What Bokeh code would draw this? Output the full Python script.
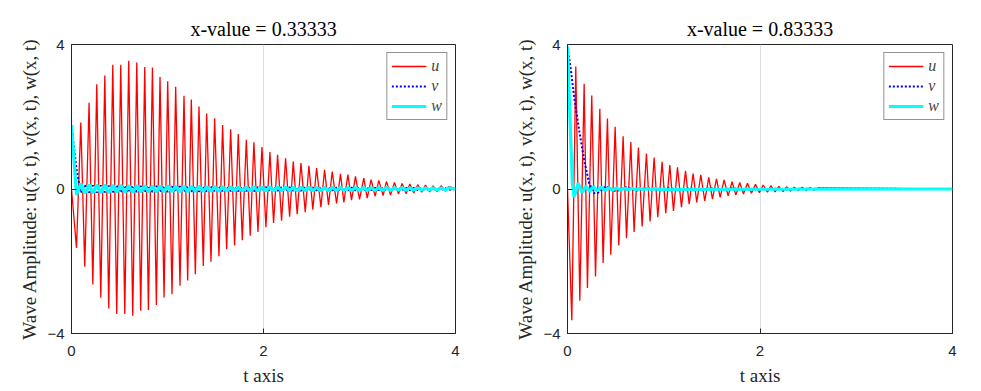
from bokeh.plotting import figure
from bokeh.layouts import row
from bokeh.models import Range1d, FixedTicker, Legend, LegendItem
from bokeh.embed import file_html
from bokeh.resources import INLINE

# ---------------- Left panel: x-value = 0.33333 ----------------
titleL = "x-value = 0.33333"
uL_peak_t = [0.097, 0.183, 0.263, 0.347, 0.430, 0.513, 0.596, 0.680, 0.763, 0.843, 0.922, 1.002,
             1.085, 1.172, 1.248, 1.328, 1.408, 1.491, 1.574, 1.658, 1.737, 1.821, 1.900, 1.984,
             2.067, 2.147, 2.230, 2.310, 2.390, 2.473, 2.553, 2.636, 2.716, 2.802, 2.879, 2.958,
             3.045, 3.121, 3.201, 3.281, 3.364, 3.444, 3.524, 3.607, 3.687, 3.767, 3.850, 3.930]
uL_peak_v = [1.84, 2.39, 2.90, 3.14, 3.44, 3.44, 3.55, 3.50, 3.38, 3.36, 3.10, 2.98,
             2.83, 2.58, 2.48, 2.28, 2.09, 1.96, 1.77, 1.65, 1.52, 1.36, 1.29, 1.16,
             1.02, 0.95, 0.85, 0.76, 0.72, 0.64, 0.58, 0.53, 0.48, 0.42, 0.40, 0.35,
             0.30, 0.26, 0.24, 0.21, 0.18, 0.15, 0.14, 0.12, 0.11, 0.09, 0.09, 0.07]
uL_trough_t = [0.052, 0.138, 0.222, 0.305, 0.388, 0.471, 0.555, 0.638, 0.721, 0.801, 0.884, 0.964,
               1.047, 1.130, 1.210, 1.290, 1.373, 1.453, 1.536, 1.616, 1.699, 1.779, 1.862, 1.942,
               2.025, 2.105, 2.188, 2.272, 2.351, 2.435, 2.514, 2.598, 2.677, 2.761, 2.837, 2.917,
               3.000, 3.080, 3.163, 3.246, 3.323, 3.406, 3.486, 3.565, 3.649, 3.732, 3.808, 3.895]
uL_trough_v = [-1.63, -2.15, -2.64, -3.01, -3.31, -3.46, -3.46, -3.51, -3.37, -3.35, -3.21, -3.00,
               -2.91, -2.68, -2.53, -2.36, -2.13, -2.01, -1.86, -1.67, -1.56, -1.42, -1.29, -1.19,
               -1.06, -0.94, -0.88, -0.77, -0.70, -0.64, -0.57, -0.50, -0.44, -0.40, -0.37, -0.31,
               -0.29, -0.25, -0.20, -0.18, -0.17, -0.14, -0.13, -0.11, -0.09, -0.08, -0.07, -0.06]
uL_start = 0.0
vwL_start = 1.76
wL_at_peak = [0.15, 0.13, 0.12, 0.12, 0.11, 0.11, 0.10, 0.10, 0.10, 0.09, 0.09, 0.09,
              0.08, 0.08, 0.08, 0.08, 0.07, 0.07, 0.07, 0.07, 0.07, 0.06, 0.06, 0.06,
              0.06, 0.06, 0.06, 0.05, 0.05, 0.05, 0.05, 0.05, 0.05, 0.05, 0.04, 0.04,
              0.04, 0.04, 0.04, 0.04, 0.04, 0.04, 0.03, 0.03, 0.03, 0.03, 0.03, 0.03]
wL_at_trough = [-0.17, -0.13, -0.12, -0.11, -0.11, -0.10, -0.10, -0.10, -0.09, -0.09, -0.09, -0.08,
                -0.08, -0.08, -0.08, -0.07, -0.07, -0.07, -0.07, -0.07, -0.06, -0.06, -0.06, -0.06,
                -0.06, -0.06, -0.05, -0.05, -0.05, -0.05, -0.05, -0.05, -0.05, -0.04, -0.04, -0.04,
                -0.04, -0.04, -0.04, -0.04, -0.04, -0.03, -0.03, -0.03, -0.03, -0.03, -0.03, -0.03]
vL_at_peak = [-0.10, -0.10, -0.10, -0.09, -0.09, -0.09, -0.09, -0.08, -0.08, -0.08, -0.08, -0.08,
              -0.07, -0.07, -0.07, -0.07, -0.07, -0.06, -0.06, -0.06, -0.06, -0.06, -0.06, -0.05,
              -0.05, -0.05, -0.05, -0.05, -0.05, -0.05, -0.04, -0.04, -0.04, -0.04, -0.04, -0.04,
              -0.04, -0.03, -0.03, -0.03, -0.03, -0.03, -0.03, -0.03, -0.03, -0.02, -0.02, -0.02]
vL_at_trough = [0.55, 0.10, 0.10, 0.10, 0.09, 0.09, 0.09, 0.09, 0.08, 0.08, 0.08, 0.08,
                0.07, 0.07, 0.07, 0.07, 0.07, 0.06, 0.06, 0.06, 0.06, 0.06, 0.06, 0.05,
                0.05, 0.05, 0.05, 0.05, 0.05, 0.05, 0.04, 0.04, 0.04, 0.04, 0.04, 0.04,
                0.04, 0.03, 0.03, 0.03, 0.03, 0.03, 0.03, 0.03, 0.03, 0.02, 0.02, 0.02]

# ---------------- Right panel: x-value = 0.83333 ----------------
titleR = "x-value = 0.83333"
uR_peak_t = [0.086, 0.173, 0.252, 0.336, 0.415, 0.495, 0.578, 0.658, 0.737, 0.820, 0.900, 0.983,
             1.063, 1.143, 1.226, 1.305, 1.385, 1.468, 1.548, 1.627, 1.710, 1.790, 1.870, 1.953,
             2.033, 2.112, 2.195, 2.275, 2.355, 2.438, 2.517, 2.597]
uR_peak_v = [3.39, 2.91, 2.59, 2.22, 1.95, 1.72, 1.46, 1.30, 1.15, 0.98, 0.87, 0.75,
             0.66, 0.60, 0.50, 0.43, 0.39, 0.32, 0.28, 0.25, 0.20, 0.18, 0.16, 0.13,
             0.11, 0.09, 0.07, 0.06, 0.05, 0.05, 0.04, 0.03]
uR_trough_t = [0.045, 0.128, 0.207, 0.291, 0.370, 0.450, 0.533, 0.613, 0.692, 0.775, 0.858, 0.938,
               1.021, 1.101, 1.184, 1.264, 1.343, 1.426, 1.506, 1.586, 1.669, 1.749, 1.828, 1.911,
               1.994, 2.078, 2.157, 2.240, 2.320, 2.400, 2.483, 2.562]
uR_trough_v = [-3.63, -3.09, -2.74, -2.42, -2.05, -1.82, -1.56, -1.36, -1.19, -1.04, -0.90, -0.78,
               -0.67, -0.61, -0.50, -0.42, -0.37, -0.33, -0.28, -0.23, -0.19, -0.17, -0.14, -0.12,
               -0.10, -0.09, -0.08, -0.07, -0.06, -0.05, -0.05, -0.04]
uR_start = 0.0
wR_t = [0.0, 0.025, 0.05, 0.069, 0.11, 0.15, 0.19, 0.23, 0.27, 0.31, 0.35, 0.39, 0.43, 0.47,
        0.51, 0.55, 0.59, 0.63, 0.67, 0.71, 0.75, 0.79, 0.83, 0.87, 0.91, 0.95, 4.0]
wR_v = [3.95, 2.0, 0.2, -0.22, 0.16, -0.10, 0.08, -0.07, 0.06, -0.05, 0.05, -0.04, 0.04, -0.03,
        0.03, -0.03, 0.02, -0.02, 0.02, -0.02, 0.01, -0.01, 0.01, -0.01, 0.01, -0.01, 0.0]
vR_t = [0.0, 0.034, 0.069, 0.121, 0.173, 0.225, 0.277, 0.318, 0.398, 0.502, 0.606, 0.72, 0.83,
        0.94, 1.05, 1.16, 1.27, 1.38, 1.49, 1.6, 1.71, 1.82, 1.93, 2.04, 2.15, 2.26, 2.37, 4.0]
vR_v = [3.92, 3.32, 2.54, 1.63, 0.80, 0.16, -0.12, -0.10, 0.08, -0.07, 0.05, -0.04, 0.04,
        -0.03, 0.03, -0.03, 0.02, -0.02, 0.02, -0.02, 0.02, -0.02, 0.01, -0.01, 0.01, -0.01, 0.01, 0.0]

t_end = 4.0
x_ticks = [0, 2, 4]
y_ticks = [-4, 0, 4]
ylabel = "Wave Amplitude: u(x, t), v(x, t), w(x, t)"
xlabel = "t axis"

DARK = "#262626"
SERIF = "Liberation Serif"


def merge(start_t, start_v, t1, v1, t2, v2, end_t, end_v):
    pts = sorted(list(zip(t1, v1)) + list(zip(t2, v2)))
    ts = [start_t] + [p[0] for p in pts] + [end_t]
    vs = [start_v] + [p[1] for p in pts] + [end_v]
    return ts, vs


def make_fig(title, border_left, border_right, width):
    p = figure(width=width, height=390, output_backend="svg", toolbar_location=None,
               x_range=Range1d(0, 4), y_range=Range1d(-4, 4),
               min_border_left=border_left, min_border_right=border_right,
               min_border_top=44, min_border_bottom=57)
    p.title.text = title
    p.title.align = "center"
    p.title.text_font = SERIF
    p.title.text_font_size = "20px"
    p.title.text_font_style = "normal"
    p.title.text_color = "black"
    p.outline_line_color = DARK
    p.outline_line_width = 1
    for ax in (p.xaxis[0], p.yaxis[0]):
        ax.axis_line_color = DARK
        ax.major_tick_line_color = DARK
        ax.major_tick_in = 5
        ax.major_tick_out = 0
        ax.minor_tick_line_color = None
        ax.major_label_text_font = "Liberation Sans"
        ax.major_label_text_font_size = "15px"
        ax.major_label_text_color = DARK
        ax.axis_label_text_font = SERIF
        ax.axis_label_text_font_size = "19px"
        ax.axis_label_text_font_style = "normal"
        ax.axis_label_text_color = DARK
    p.xaxis.ticker = FixedTicker(ticks=x_ticks)
    p.yaxis.ticker = FixedTicker(ticks=y_ticks)
    p.xaxis.axis_label = xlabel
    p.yaxis.axis_label = ylabel
    p.xaxis.major_label_standoff = 12
    p.xaxis.axis_label_standoff = 6
    p.yaxis.major_label_standoff = 7
    p.yaxis.axis_label_standoff = 4
    p.yaxis.major_label_orientation = "horizontal"
    p.xgrid.ticker = FixedTicker(ticks=x_ticks)
    p.ygrid.ticker = FixedTicker(ticks=y_ticks)
    p.xgrid.grid_line_color = "#dedede"
    p.ygrid.grid_line_color = "#dedede"
    return p


def draw(p, ut, uv, vt, vv, wt, wv):
    ru = p.line(ut, uv, line_color="#ff0000", line_width=1.3)
    rv = p.line(vt, vv, line_color="#0000ff", line_width=2, line_dash="2 2")
    rw = p.line(wt, wv, line_color="#00ffff", line_width=3.2)
    leg = Legend(items=[LegendItem(label="u", renderers=[ru]),
                        LegendItem(label="v", renderers=[rv]),
                        LegendItem(label="w", renderers=[rw])],
                 location="top_right")
    leg.label_text_font = SERIF
    leg.label_text_font_style = "italic"
    leg.label_text_font_size = "16px"
    leg.glyph_width = 35
    leg.glyph_height = 18
    leg.label_height = 18
    leg.label_width = 9
    leg.spacing = 2
    leg.padding = 4
    leg.margin = 8
    leg.label_standoff = 5
    leg.border_line_color = DARK
    leg.border_line_width = 1
    leg.background_fill_alpha = 1
    p.add_layout(leg, "center")


# left
uLt, uLv = merge(0.0, uL_start, uL_trough_t, uL_trough_v, uL_peak_t, uL_peak_v, t_end, 0.0)
wLt, wLv = merge(0.0, vwL_start, uL_trough_t, wL_at_trough, uL_peak_t, wL_at_peak, t_end, 0.0)
vLt, vLv = merge(0.0, vwL_start, uL_trough_t, vL_at_trough, uL_peak_t, vL_at_peak, t_end, 0.0)
p1 = make_fig(titleL, 71, 35, 490)
draw(p1, uLt, uLv, vLt, vLv, wLt, wLv)

# right
uRt, uRv = merge(0.0, uR_start, uR_trough_t, uR_trough_v, uR_peak_t, uR_peak_v, t_end, 0.0)
p2 = make_fig(titleR, 77, 21, 483)
draw(p2, uRt, uRv, vR_t, vR_v, wR_t, wR_v)

layout = row(p1, p2)
open("out.html", "w").write(file_html(layout, INLINE))
